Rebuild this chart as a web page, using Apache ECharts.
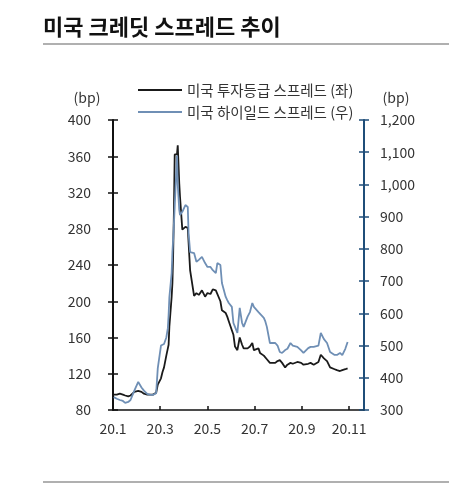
<!DOCTYPE html>
<html>
<head>
<meta charset="utf-8">
<script src="https://cdn.jsdelivr.net/npm/echarts@6/dist/echarts.min.js"></script>
<style>
html,body{margin:0;padding:0;background:#fff;}
#chart{width:470px;height:490px;}
</style>
</head>
<body>
<div id="chart"></div>
<script>
const titleText = '미국 크레딧 스프레드 추이';
const seriesNames = ['미국 투자등급 스프레드 (좌)', '미국 하이일드 스프레드 (우)'];
const xTickValues = [0, 2, 4, 6, 8, 10];
const xTickLabels = ['20.1', '20.3', '20.5', '20.7', '20.9', '20.11'];

const dates = [
 '01-02','01-06','01-10','01-14','01-17','01-21','01-24','01-29',
 '02-03','02-05','02-07','02-10','02-14','02-18','02-21','02-25','02-27',
 '03-02','03-04','03-06','03-09','03-11','03-12','03-13','03-16','03-17','03-18','03-19','03-20','03-23','03-24','03-26','03-27','03-30',
 '04-03','04-06','04-07','04-09','04-10','04-14','04-17','04-20','04-24','04-28',
 '05-01','05-05','05-08','05-12','05-14','05-18','05-20','05-25','05-27','05-29',
 '06-02','06-04','06-06','06-09','06-12','06-15','06-17','06-22','06-25','06-28','06-30',
 '07-06','07-08','07-13','07-15','07-17','07-21','07-28','07-31',
 '08-03','08-06','08-10','08-13','08-17','08-20','08-26','08-31',
 '09-03','09-09','09-12','09-16','09-22','09-25','09-29',
 '10-03','10-07','10-13','10-16','10-20','10-23','10-27','10-30'
];
const igSpread = [
 97,97,98,97,96,95,96,100,
 101,103,100,98,97,97,97,99,108,
 115,122,127,140,148,152,172,205,220,253,300,362,362,372,330,315,279,
 282,281,281,234,234,206,209,207,212,205,
 209,208,213,212,210,200,190,187,183,178,
 168,163,150,146,160,152,148,148,150,154,146,
 148,143,140,139,136,132,132,134,
 135,132,127,130,132,131,133,132,
 130,131,132,130,133,141,137,
 134,127,125,124,123,124,125,126
];
const hySpread = [
 340,335,331,328,322,325,331,360,
 387,385,370,360,350,347,347,352,430,
 500,495,505,525,554,595,650,725,790,830,880,930,1090,1000,921,905,915,
 936,930,850,790,787,787,760,766,775,756,
 744,744,734,725,756,750,694,651,641,632,
 620,570,558,539,617,570,558,590,604,632,620,
 604,600,586,575,558,508,508,500,
 480,477,486,490,508,500,496,485,
 477,492,496,496,500,539,520,
 508,480,471,471,477,470,490,511
];

function toMonthIndex(s) {
  const parts = s.split('-').map(Number);
  const dim = new Date(2020, parts[0], 0).getDate();
  return (parts[0] - 1) + (parts[1] - 1) / dim;
}

const FONT = '"Noto Sans CJK KR", "Noto Sans", sans-serif';
const chart = echarts.init(document.getElementById('chart'));

const labelStyle = { fontFamily: FONT, fontSize: 14, color: '#333' };

chart.setOption({
  animation: false,
  textStyle: { fontFamily: FONT },
  grid: { left: 113, right: 106, top: 120, bottom: 80, containLabel: false },
  graphic: [
    { type: 'text', left: 43, top: 16, style: { text: titleText, font: 'bold 22px ' + FONT, fill: '#111' } },
    { type: 'line', shape: { x1: 43, y1: 44, x2: 449, y2: 44 }, style: { stroke: '#b0b0b0', lineWidth: 2 } },
    { type: 'line', shape: { x1: 43, y1: 482, x2: 449, y2: 482 }, style: { stroke: '#b0b0b0', lineWidth: 2 } },
    { type: 'text', x: 87, y: 98, style: { text: '(bp)', font: '14px ' + FONT, fill: '#333', textAlign: 'center', textVerticalAlign: 'middle' } },
    { type: 'text', x: 396, y: 98, style: { text: '(bp)', font: '14px ' + FONT, fill: '#333', textAlign: 'center', textVerticalAlign: 'middle' } }
  ],
  legend: {
    orient: 'vertical', left: 133, top: 77, itemWidth: 44, itemHeight: 2, itemGap: 6,
    icon: 'rect',
    data: seriesNames,
    textStyle: { fontFamily: FONT, fontSize: 14.5, color: '#333', lineHeight: 16 }
  },
  xAxis: {
    type: 'value', min: 0, max: 10.63, interval: 2,
    axisLine: { lineStyle: { color: '#111', width: 1.5 } },
    axisTick: { inside: true, length: 4, lineStyle: { color: '#111', width: 1.5 }, customValues: xTickValues },
    axisLabel: Object.assign({ margin: 12, customValues: xTickValues,
      formatter: v => { const i = xTickValues.indexOf(Math.round(v)); return i >= 0 ? xTickLabels[i] : ''; } }, labelStyle),
    splitLine: { show: false }
  },
  yAxis: [
    { type: 'value', position: 'left', min: 80, max: 400, interval: 40,
      axisLine: { show: true, lineStyle: { color: '#111', width: 2 } },
      axisTick: { show: true, length: 5, lineStyle: { color: '#111', width: 1.5 } },
      axisLabel: Object.assign({ margin: 22 }, labelStyle),
      splitLine: { show: false } },
    { type: 'value', position: 'right', min: 300, max: 1200, interval: 100,
      axisLine: { show: true, lineStyle: { color: '#1f4e79', width: 2 } },
      axisTick: { show: true, length: 5, lineStyle: { color: '#1f4e79', width: 1.5 } },
      axisLabel: Object.assign({ margin: 16, formatter: v => v.toLocaleString('en-US') }, labelStyle),
      splitLine: { show: false } },
    { type: 'value', position: 'left', min: 80, max: 400, interval: 40,
      axisLine: { show: false },
      axisTick: { show: true, inside: true, length: 5, lineStyle: { color: '#111', width: 1.5 } },
      axisLabel: { show: false }, splitLine: { show: false } },
    { type: 'value', position: 'right', min: 300, max: 1200, interval: 100,
      axisLine: { show: false },
      axisTick: { show: true, inside: true, length: 5, lineStyle: { color: '#1f4e79', width: 1.5 } },
      axisLabel: { show: false }, splitLine: { show: false } }
  ],
  series: [
    { name: seriesNames[0], type: 'line', yAxisIndex: 0, showSymbol: false, symbol: 'none',
      color: '#1a1a1a', lineStyle: { color: '#1a1a1a', width: 1.8 },
      data: dates.map((d, i) => [toMonthIndex(d), igSpread[i]]) },
    { name: seriesNames[1], type: 'line', yAxisIndex: 1, showSymbol: false, symbol: 'none',
      color: '#6f8fb5', lineStyle: { color: '#6f8fb5', width: 1.8 },
      data: dates.map((d, i) => [toMonthIndex(d), hySpread[i]]) }
  ]
});
</script>
</body>
</html>
